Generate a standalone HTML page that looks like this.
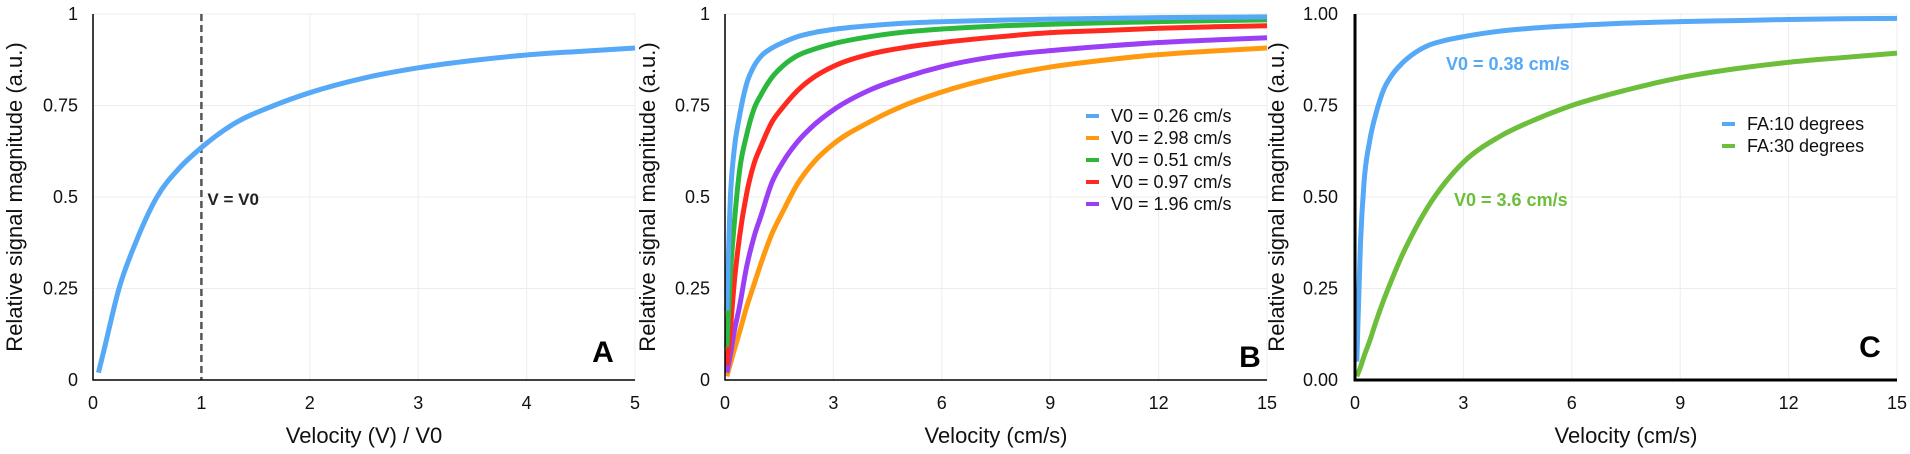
<!DOCTYPE html>
<html><head><meta charset="utf-8"><style>
html,body{margin:0;padding:0;background:#fff;width:1910px;height:454px;overflow:hidden}
svg{display:block;font-family:"Liberation Sans",sans-serif}
</style></head><body>
<svg id="c" width="1910" height="454"></svg>
<script>
const xA=[0.05,0.1,0.24,0.4,0.59,0.8,1,1.3,1.67,2,2.5,3,3.5,4,4.5,5];
const yA=[0.02,0.08,0.25,0.38,0.5,0.58,0.635,0.7,0.75,0.785,0.825,0.853,0.873,0.888,0.898,0.907];
const xB=[0.05,0.15,0.25,0.4,0.6,0.8,1,1.3,1.6,2,2.5,3,4,5,6,7.5,9,10.5,12,13.5,15];
const yB026=[0.19,0.5,0.625,0.72,0.81,0.857,0.885,0.907,0.922,0.938,0.95,0.958,0.968,0.975,0.979,0.983,0.986,0.988,0.99,0.991,0.992];
const yB298=[0.01,0.045,0.08,0.13,0.2,0.26,0.32,0.4,0.46,0.535,0.6,0.645,0.705,0.752,0.787,0.827,0.855,0.874,0.889,0.899,0.907];
const yB051=[0.09,0.29,0.42,0.57,0.67,0.74,0.78,0.827,0.858,0.886,0.905,0.919,0.938,0.951,0.959,0.967,0.972,0.976,0.979,0.982,0.984];
const yB097=[0.04,0.14,0.26,0.39,0.51,0.59,0.64,0.705,0.745,0.79,0.83,0.857,0.89,0.909,0.922,0.937,0.949,0.955,0.961,0.965,0.968];
const yB196=[0.02,0.07,0.13,0.2,0.31,0.39,0.45,0.54,0.595,0.65,0.7,0.738,0.792,0.828,0.856,0.884,0.9,0.912,0.922,0.929,0.935];
const xC=[0.05,0.15,0.25,0.4,0.6,0.8,1,1.3,1.6,2,2.5,3,4,5,6,7.5,9,10.5,12,13.5,15];
const yC10=[0.05,0.37,0.54,0.65,0.735,0.795,0.83,0.865,0.89,0.913,0.928,0.938,0.953,0.962,0.968,0.975,0.979,0.982,0.985,0.987,0.988];
const yC30=[0.01,0.035,0.065,0.105,0.165,0.22,0.27,0.34,0.4,0.47,0.54,0.595,0.665,0.712,0.75,0.792,0.826,0.85,0.868,0.881,0.893];
const ticksA=["0","1","2","3","4","5"];
const ticksB=["0","3","6","9","12","15"];
const yTicksAB=["0","0.25","0.5","0.75","1"];
const yTicksC=["0.00","0.25","0.50","0.75","1.00"];

const NS="http://www.w3.org/2000/svg";
const svg=document.getElementById('c');
function el(t,a,p){const e=document.createElementNS(NS,t);for(const k in a)e.setAttribute(k,a[k]);(p||svg).appendChild(e);return e;}
function txt(s,a,p){const e=el('text',a,p);e.textContent=s;return e;}
function path(xs,ys,sx,sy){
  const P=xs.map((x,i)=>[sx(x),sy(ys[i])]);const n=P.length;
  const h=[],d=[],m=[];
  for(let i=0;i<n-1;i++){h.push(P[i+1][0]-P[i][0]);d.push((P[i+1][1]-P[i][1])/h[i]);}
  m[0]=d[0];m[n-1]=d[n-2];
  for(let i=1;i<n-1;i++){
    if(d[i-1]*d[i]<=0){m[i]=0;continue;}
    let v=(d[i-1]*h[i]+d[i]*h[i-1])/(h[i-1]+h[i]);
    const lim=3*Math.min(Math.abs(d[i-1]),Math.abs(d[i]));
    if(Math.abs(v)>lim)v=Math.sign(v)*lim;
    m[i]=v;}
  let s=`M${P[0][0]},${P[0][1]}`;
  for(let i=0;i<n-1;i++){const k=h[i]/3;
    s+=`C${P[i][0]+k},${P[i][1]+m[i]*k} ${P[i+1][0]-k},${P[i+1][1]-m[i+1]*k} ${P[i+1][0]},${P[i+1][1]}`;}
  return s;
}
function panel(o){
  const g=el('g',{});
  
  
  const top=14,bot=380;
  const sx=v=>o.x0+(v/o.xmax)*(o.x1-o.x0);
  const sy=v=>bot-v*(bot-top);
  o.xt.forEach((t,i)=>{const v=i*o.xmax/(o.xt.length-1);const x=sx(v);
    const l=el('line',{x1:x,x2:x,y1:top,y2:bot,stroke:'#ececec','stroke-width':1},g);
    
    const tt=txt(t,{x:x,y:bot+29,'font-size':18,'text-anchor':'middle',fill:'#111'},g);
    });
  o.yt.forEach((t,i)=>{const v=i/(o.yt.length-1);const y=sy(v);
    const l=el('line',{x1:o.x0,x2:o.x1,y1:y,y2:y,stroke:'#ececec','stroke-width':1},g);
    
    const tt=txt(t,{x:o.tx,y:y+6,'font-size':18,'text-anchor':'end',fill:'#111'},g);
    });
  if(o.extra)o.extra(g,sx,sy);
  o.series.forEach(s=>{const p=el('path',{d:path(s.x,s.y,sx,sy),fill:'none',stroke:s.c,'stroke-width':5,'stroke-linejoin':'round'},g);
    });
  const ax=el('path',{d:`M${o.x0},${top}V${bot}H${o.x1}`,fill:'none',stroke:'#000','stroke-width':o.aw},g);
  
  const xt=txt(o.xtitle,{x:(o.x0+o.x1)/2,y:443,'font-size':22,'text-anchor':'middle',fill:'#111'},g);
  
  const yt=txt('Relative signal magnitude (a.u.)',{x:0,y:0,'font-size':22,'text-anchor':'middle',fill:'#111',transform:`translate(${o.ytx},${(top+bot)/2}) rotate(-90)`},g);
  
  const lt=txt(o.letter,{x:o.lx,y:o.ly,'font-size':30,'font-weight':'bold','text-anchor':'middle',fill:'#000'},g);
  
  if(o.legend)o.legend.forEach((e,i)=>{const y=o.legY+i*22;
    const lg=el('g',{},g);
    el('line',{x1:o.legX,x2:o.legX+13,y1:y,y2:y,stroke:e.c,'stroke-width':4},lg);
    txt(e.t,{x:o.legX+25,y:y+6,'font-size':18,fill:'#111'},lg);});
}
panel({name:'panel-a',x0:93,x1:635,xmax:5,tx:78,ytx:22,xt:ticksA,yt:yTicksAB,aw:1.5,xtitle:'Velocity (V) / V0',letter:'A',lx:603,ly:362,
  series:[{x:xA,y:yA,c:'#55a9f6',n:'signal-curve'}],
  extra:(g,sx,sy)=>{const l=el('line',{x1:sx(1),x2:sx(1),y1:14,y2:380,stroke:'#555','stroke-width':2.5,'stroke-dasharray':'7,4'},g);
    
    const t=txt('V = V0',{x:sx(1)+6,y:205,'font-size':17,'font-weight':'bold',fill:'#222'},g);
    }});
panel({name:'panel-b',x0:725,x1:1267,xmax:15,tx:710,ytx:655,xt:ticksB,yt:yTicksAB,aw:1.5,xtitle:'Velocity (cm/s)',letter:'B',lx:1250,ly:367,
  series:[{x:xB,y:yB298,c:'#ff9a10',n:'series-v0-2-98'},{x:xB,y:yB196,c:'#9b3ff6',n:'series-v0-1-96'},{x:xB,y:yB097,c:'#ff2a1f',n:'series-v0-0-97'},{x:xB,y:yB051,c:'#2cb83c',n:'series-v0-0-51'},{x:xB,y:yB026,c:'#55a9f6',n:'series-v0-0-26'}],
  legX:1086,legY:116,legend:[{c:'#55a9f6',t:'V0 = 0.26 cm/s'},{c:'#ff9a10',t:'V0 = 2.98 cm/s'},{c:'#2cb83c',t:'V0 = 0.51 cm/s'},{c:'#ff2a1f',t:'V0 = 0.97 cm/s'},{c:'#9b3ff6',t:'V0 = 1.96 cm/s'}]});
panel({name:'panel-c',x0:1355,x1:1897,xmax:15,tx:1338,ytx:1284,xt:ticksB,yt:yTicksC,aw:3,xtitle:'Velocity (cm/s)',letter:'C',lx:1870,ly:357,
  series:[{x:xC,y:yC30,c:'#6cbe3b',n:'series-fa-30'},{x:xC,y:yC10,c:'#55a9f6',n:'series-fa-10'}],
  legX:1722,legY:124,legend:[{c:'#55a9f6',t:'FA:10 degrees'},{c:'#6cbe3b',t:'FA:30 degrees'}],
  extra:(g)=>{const a=txt('V0 = 0.38 cm/s',{x:1446,y:70,'font-size':18,'font-weight':'bold',fill:'#55a9f6'},g);
    
    const b=txt('V0 = 3.6 cm/s',{x:1454,y:206,'font-size':18,'font-weight':'bold',fill:'#6cbe3b'},g);
    }});
</script>
</body></html>
